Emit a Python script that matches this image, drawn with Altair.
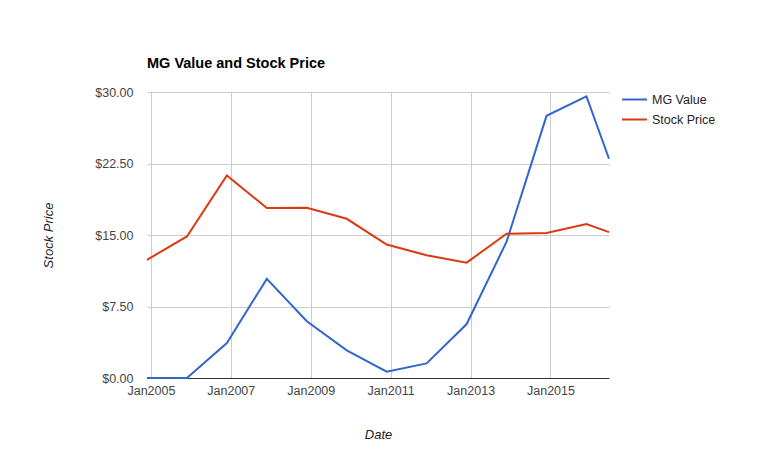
import altair as alt
import pandas as pd

dates = ["2004-11-26", "2005-11-26", "2006-11-26", "2007-11-26", "2008-11-26",
         "2009-11-26", "2010-11-26", "2011-11-26", "2012-11-26", "2013-11-26",
         "2014-11-26", "2015-11-26", "2016-06-19"]
mg_value = [0.0, 0.0, 3.67, 10.4, 5.95, 2.9, 0.66, 1.53, 5.66, 14.3, 27.5, 29.55, 23.0]
stock_price = [12.4, 14.85, 21.25, 17.83, 17.85, 16.7, 14.0, 12.87, 12.1, 15.14, 15.2, 16.16, 15.3]
series = ["MG Value", "Stock Price"]
colors = ["#3366cc", "#dc3912"]
x_ticks = ["2005-01-01T00:00:00", "2007-01-01T00:00:00", "2009-01-01T00:00:00",
           "2011-01-01T00:00:00", "2013-01-01T00:00:00", "2015-01-01T00:00:00"]
y_ticks = [0, 7.5, 15, 22.5, 30]

rows = []
for d, m, s in zip(dates, mg_value, stock_price):
    rows.append({"Date": d + "T00:00:00", "Series": series[0], "Value": m})
    rows.append({"Date": d + "T00:00:00", "Series": series[1], "Value": s})
df = pd.DataFrame(rows)

FONT = "Liberation Sans"

chart = alt.Chart(df).mark_line(strokeWidth=2).encode(
    x=alt.X("Date:T",
            scale=alt.Scale(nice=False),
            axis=alt.Axis(values=[pd.Timestamp(t).value // 10**6 for t in x_ticks],
                          format="%b%Y", title="Date", titleFontStyle="italic",
                          titleFontWeight="normal", titleFontSize=13, titleColor="#222",
                          titleY=56, titleBaseline="middle",
                          labelFontSize=12.5, labelColor="#444", labelPadding=6,
                          ticks=False, domainColor="#333", domainWidth=1,
                          gridColor="#cccccc", labelFlush=False)),
    y=alt.Y("Value:Q",
            scale=alt.Scale(domain=[0, 30], nice=False),
            axis=alt.Axis(values=y_ticks, format="$.2f", title="Stock Price",
                          titleFontStyle="italic", titleFontWeight="normal",
                          titleFontSize=13, titleColor="#222",
                          titleX=-99, titleY=143, titleAngle=270, titleBaseline="middle",
                          titleAlign="center",
                          labelFontSize=12.5, labelColor="#444", labelPadding=14,
                          ticks=False, domain=False, gridColor="#cccccc")),
    color=alt.Color("Series:N",
                    scale=alt.Scale(domain=series, range=colors),
                    legend=alt.Legend(title=None, orient="none", legendX=474, legendY=-6,
                                      symbolType="stroke", symbolSize=625,
                                      symbolStrokeWidth=2, labelFontSize=12.5,
                                      labelColor="#222", rowPadding=-5,
                                      labelOffset=4)),
).properties(
    width=462, height=286,
    title=alt.TitleParams("MG Value and Stock Price", anchor="start", fontSize=14.5,
                          fontWeight="bold", color="#000", font=FONT, frame="group",
                          baseline="alphabetic", offset=4),
    autosize=alt.AutoSizeParams(type="none"),
    padding={"left": 139, "top": 84, "right": 141, "bottom": 78},
).configure(font=FONT).configure_view(stroke=None)

chart.save("out.html", embed_options={"renderer": "svg", "actions": False})
